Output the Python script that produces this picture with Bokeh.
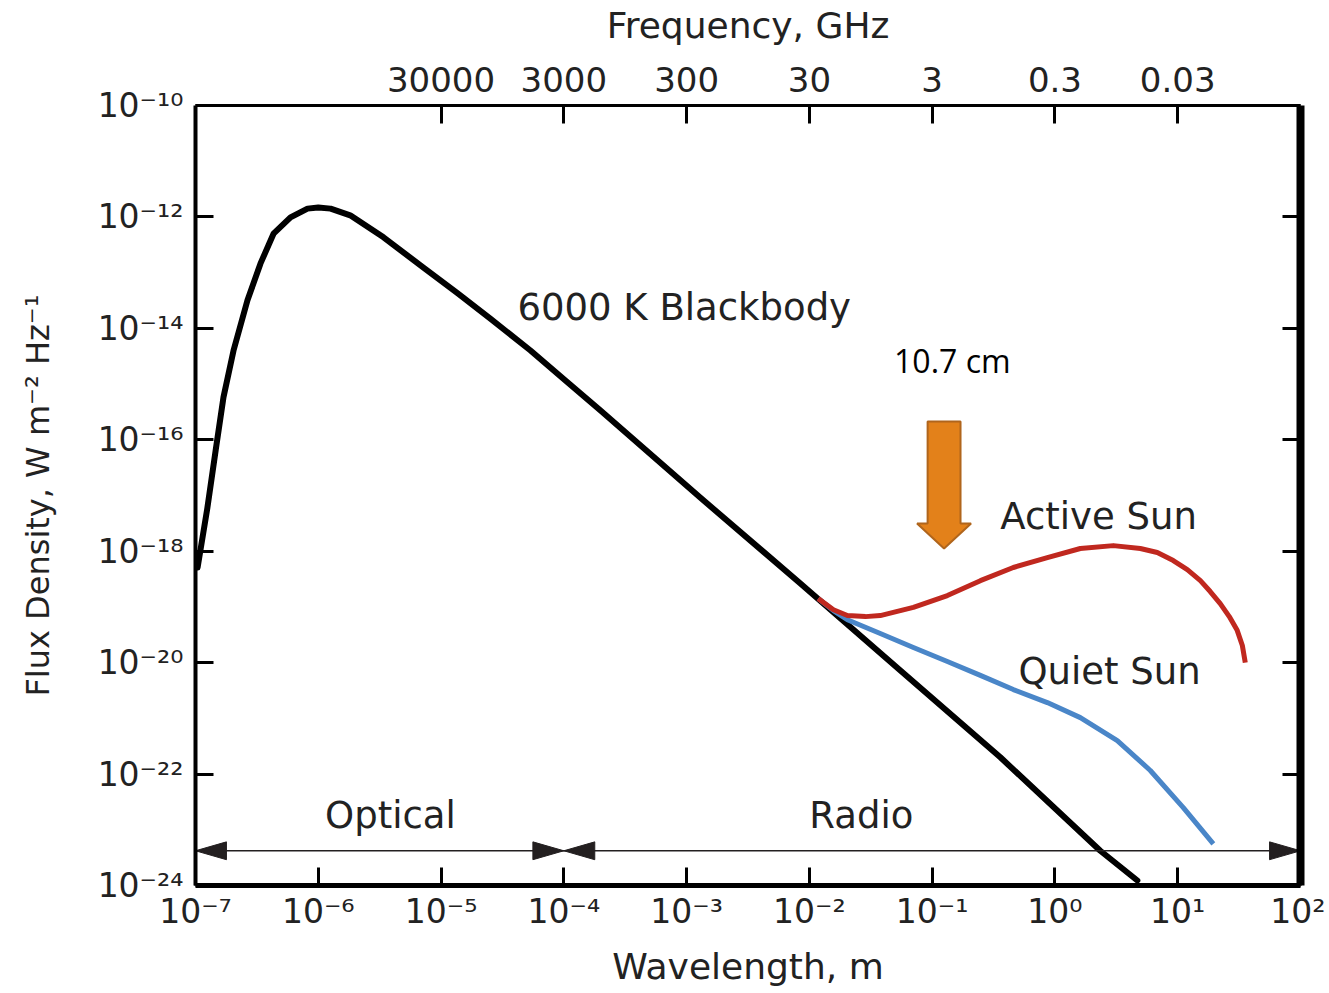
import math
from bokeh.plotting import figure
from bokeh.models import Range1d, FixedTicker, LogAxis, CustomJSTickFormatter
from bokeh.core.properties import value
from bokeh.embed import file_html
from bokeh.resources import INLINE

# ---------------- data ----------------
BB_WAVELENGTH = [1.04e-7, 1.25e-7, 1.46e-7, 1.69e-7, 2.04e-7, 2.65e-7, 3.38e-7, 4.32e-7,
                 5.94e-7, 8.17e-7, 1.0e-6, 1.26e-6, 1.82e-6, 3.40e-6, 7.19e-6, 1.36e-5,
                 2.52e-5, 5.35e-5, 1.03e-4, 1.99e-4, 1.29e-3, 8.45e-3, 5.51e-2, 0.359,
                 2.34, 4.69]
BB_FLUX = [5.1e-19, 6.0e-18, 6.5e-17, 5.8e-16, 4.0e-15, 3.2e-14, 1.45e-13, 5.0e-13,
           9.8e-13, 1.41e-12, 1.48e-12, 1.41e-12, 1.07e-12, 4.3e-13, 1.23e-13, 4.3e-14,
           1.50e-14, 4.0e-15, 1.16e-15, 3.35e-16, 9.2e-18, 2.63e-19, 7.2e-21, 2.0e-22,
           4.2e-24, 1.23e-24]

ACTIVE_WAVELENGTH = [1.18e-2, 1.57e-2, 2.04e-2, 2.86e-2, 3.78e-2, 7.03e-2, 0.133, 0.247,
                     0.458, 0.867, 1.61, 2.99, 4.96, 6.82, 9.2, 11.97, 15.3, 18.4, 22.2,
                     26.3, 30.5, 33.6, 35.5]
ACTIVE_FLUX = [1.41e-19, 8.9e-20, 7.0e-20, 6.7e-20, 7.0e-20, 9.8e-20, 1.60e-19, 2.96e-19,
               5.1e-19, 7.7e-19, 1.12e-18, 1.26e-18, 1.12e-18, 9.5e-19, 6.8e-19, 4.69e-19,
               2.96e-19, 1.89e-19, 1.15e-19, 6.7e-20, 3.8e-20, 2.03e-20, 1.0e-20]

QUIET_WAVELENGTH = [1.18e-2, 1.57e-2, 2.04e-2, 3.78e-2, 7.03e-2, 0.133, 0.247, 0.458,
                    0.867, 1.61, 3.22, 5.98, 11.1, 19.5]
QUIET_FLUX = [1.41e-19, 8.6e-20, 5.9e-20, 3.33e-20, 1.87e-20, 1.05e-20, 5.9e-21, 3.29e-21,
              1.92e-21, 1.03e-21, 4.0e-22, 1.16e-22, 2.5e-23, 5.6e-24]

X_TICKS = [1e-7, 1e-6, 1e-5, 1e-4, 1e-3, 1e-2, 1e-1, 1e0, 1e1, 1e2]
X_TICK_LABELS = ["10⁻⁷", "10⁻⁶", "10⁻⁵", "10⁻⁴", "10⁻³", "10⁻²", "10⁻¹", "10⁰", "10¹", "10²"]
FREQ_TICK_WAVELENGTHS = [1e-5, 1e-4, 1e-3, 1e-2, 1e-1, 1e0, 1e1]
FREQ_TICK_LABELS = ["30000", "3000", "300", "30", "3", "0.3", "0.03"]
Y_TICKS = [1e-24, 1e-22, 1e-20, 1e-18, 1e-16, 1e-14, 1e-12, 1e-10]
Y_TICK_LABELS = ["10⁻²⁴", "10⁻²²", "10⁻²⁰", "10⁻¹⁸", "10⁻¹⁶", "10⁻¹⁴", "10⁻¹²", "10⁻¹⁰"]

# bands (wavelength limits, m) and the flux level of the band arrows
BAND_NAMES = ["Optical", "Radio"]
BAND_LIMITS = [(1e-7, 1e-4), (1e-4, 1e2)]
BAND_ARROW_FLUX = 4.2e-24
BAND_LABEL_X = [3.87e-6, 2.65e-2]
BAND_LABEL_Y = [1.8e-23, 1.8e-23]

CURVE_LABELS = ["6000 K Blackbody", "Active Sun", "Quiet Sun"]
CURVE_LABEL_X = [4.19e-5, 0.359, 0.504]
CURVE_LABEL_Y = [2.37e-14, 4.19e-18, 6.9e-21]

MARK_TEXT = "10.7 cm"
MARK_WAVELENGTH = 0.125
MARK_TEXT_POS = (0.146, 2.65e-15)

TEXT_COLOR = "#222222"
FONT = "DejaVu Sans"

# ---------------- figure ----------------
p = figure(width=1325, height=990, x_axis_type="log", y_axis_type="log",
           x_range=Range1d(1e-7, 1e2), y_range=Range1d(1e-24, 1e-10),
           output_backend="svg", toolbar_location=None, title=None,
           min_border_left=195, min_border_right=25, min_border_top=105,
           min_border_bottom=105, outline_line_color=None,
           background_fill_color="white", border_fill_color="white")
p.xgrid.visible = False
p.ygrid.visible = False

FMT_CODE = """
const i = tvals.findIndex(t => Math.abs(Math.log10(t) - Math.log10(tick)) < 1e-6);
return i >= 0 ? tlabels[i] : "";
"""


def style_axis(ax, line_width, label_size="33px", title_size="36px"):
    ax.major_tick_in = 18
    ax.major_tick_out = 0
    ax.minor_tick_in = 0
    ax.minor_tick_out = 0
    ax.major_tick_line_width = 3
    ax.major_tick_line_color = "black"
    ax.axis_line_width = line_width
    ax.axis_line_color = "black"
    ax.major_label_text_font = FONT
    ax.major_label_text_font_size = label_size
    ax.major_label_text_color = TEXT_COLOR
    ax.axis_label_text_font = FONT
    ax.axis_label_text_font_size = title_size
    ax.axis_label_text_font_style = "normal"
    ax.axis_label_text_color = TEXT_COLOR


# bottom axis
xa = p.xaxis[0]
xa.ticker = FixedTicker(ticks=X_TICKS, minor_ticks=[])
xa.formatter = CustomJSTickFormatter(args=dict(tvals=X_TICKS, tlabels=X_TICK_LABELS), code=FMT_CODE)
style_axis(xa, 5)
xa.major_label_standoff = 6
xa.axis_label = "Wavelength, m"
xa.axis_label_standoff = 12

# left axis
ya = p.yaxis[0]
ya.ticker = FixedTicker(ticks=Y_TICKS, minor_ticks=[])
ya.formatter = CustomJSTickFormatter(args=dict(tvals=Y_TICKS, tlabels=Y_TICK_LABELS), code=FMT_CODE)
style_axis(ya, 4, title_size="32px")
ya.major_label_standoff = 12
ya.axis_label = "Flux Density, W m⁻² Hz⁻¹"
ya.axis_label_standoff = 38

# top axis (frequency)
ta = LogAxis(ticker=FixedTicker(ticks=FREQ_TICK_WAVELENGTHS, minor_ticks=[]),
             formatter=CustomJSTickFormatter(args=dict(tvals=FREQ_TICK_WAVELENGTHS,
                                                       tlabels=FREQ_TICK_LABELS), code=FMT_CODE),
             axis_label="Frequency, GHz")
style_axis(ta, 3, label_size="34px")
ta.major_label_standoff = 14
ta.axis_label_standoff = 18
p.add_layout(ta, "above")

# right axis (ticks only)
ra = LogAxis(ticker=FixedTicker(ticks=Y_TICKS, minor_ticks=[]),
             formatter=CustomJSTickFormatter(code="return '';"))
style_axis(ra, 8)
ra.major_label_standoff = 0
p.add_layout(ra, "right")

# ---------------- curves ----------------
p.line(BB_WAVELENGTH, BB_FLUX, line_color="black", line_width=6, line_join="round", line_cap="round")
p.line(QUIET_WAVELENGTH, QUIET_FLUX, line_color="#4a86c8", line_width=5, line_join="round")
p.line(ACTIVE_WAVELENGTH, ACTIVE_FLUX, line_color="#c0281f", line_width=5, line_join="round")

# ---------------- band arrows ----------------
HEAD_LEN_DEC = 0.252   # arrowhead length, decades of wavelength
HEAD_HALF_DEC = 0.16   # arrowhead half height, decades of flux
ly = math.log10(BAND_ARROW_FLUX)
p.line([BAND_LIMITS[0][0], BAND_LIMITS[-1][1]], [BAND_ARROW_FLUX, BAND_ARROW_FLUX],
       line_color="#231f20", line_width=1.6)
hx, hy = [], []
for lo, hi in BAND_LIMITS:
    a, b = math.log10(lo), math.log10(hi)
    hx.append([10 ** a, 10 ** (a + HEAD_LEN_DEC), 10 ** (a + HEAD_LEN_DEC)])
    hy.append([10 ** ly, 10 ** (ly + HEAD_HALF_DEC), 10 ** (ly - HEAD_HALF_DEC)])
    hx.append([10 ** b, 10 ** (b - HEAD_LEN_DEC), 10 ** (b - HEAD_LEN_DEC)])
    hy.append([10 ** ly, 10 ** (ly + HEAD_HALF_DEC), 10 ** (ly - HEAD_HALF_DEC)])
p.patches(hx, hy, fill_color="#231f20", line_color="#231f20", line_width=1)

p.text(BAND_LABEL_X, BAND_LABEL_Y, text=BAND_NAMES, text_font=value(FONT),
       text_font_size="37px", text_color=TEXT_COLOR, text_align="center", text_baseline="middle")
p.text(CURVE_LABEL_X, CURVE_LABEL_Y, text=CURVE_LABELS, text_font=value(FONT),
       text_font_size="37px", text_color=TEXT_COLOR, text_align="left", text_baseline="middle")

# ---------------- 10.7 cm marker ----------------
cx = math.log10(MARK_WAVELENGTH)
SHAFT_HALF = 0.134
HEAD_HALF = 0.22
Y_TIP = -17.95
Y_HEAD = Y_TIP + 0.449
Y_TOP = Y_HEAD + 1.831
ax_log = [cx - SHAFT_HALF, cx + SHAFT_HALF, cx + SHAFT_HALF, cx + HEAD_HALF, cx,
          cx - HEAD_HALF, cx - SHAFT_HALF]
ay_log = [Y_TOP, Y_TOP, Y_HEAD, Y_HEAD, Y_TIP, Y_HEAD, Y_HEAD]
p.patch([10 ** v for v in ax_log], [10 ** v for v in ay_log], fill_color="#e3811a",
        line_color="#b0651c", line_width=2)
p.text([MARK_TEXT_POS[0]], [MARK_TEXT_POS[1]], text=[MARK_TEXT], text_font=value("Open Sans"),
       text_font_size="32px", text_color="black", text_align="center", text_baseline="middle")

open("out.html", "w").write(file_html(p, INLINE))
